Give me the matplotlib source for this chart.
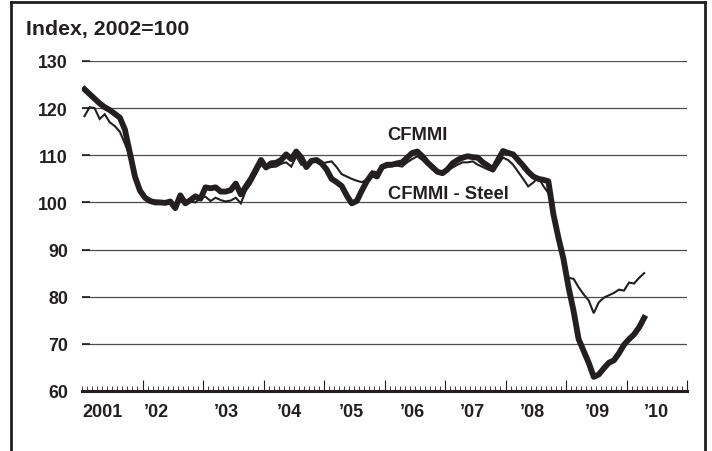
import numpy as np
import matplotlib
matplotlib.use("Agg")
import matplotlib.pyplot as plt
from matplotlib.lines import Line2D
import matplotlib.transforms as mtransforms

plt.rcParams['font.family'] = ['Liberation Sans', 'DejaVu Sans']
plt.rcParams['font.weight'] = 'bold'

# monthly index values, Jan 2001 .. Apr 2010
cfmmi = [124.0, 123.0, 122.0, 121.0, 120.2, 119.6, 118.8, 118.0, 115.5, 110.5, 105.5, 102.5,
         101.0, 100.3, 100.0, 100.0, 99.9, 100.2, 98.8, 101.5, 99.8, 100.5, 101.3, 100.8,
         103.2, 103.0, 103.2, 102.3, 102.3, 102.6, 104.0, 101.7, 103.4, 105.0, 107.0, 109.0,
         107.4, 108.3, 108.4, 109.0, 110.2, 109.2, 110.8, 109.5, 107.5, 108.8, 109.0, 108.3,
         107.0, 105.0, 104.3, 103.5, 101.5, 99.8, 100.3, 102.5, 104.5, 106.0, 105.5, 107.5,
         108.0, 108.0, 108.3, 108.5, 109.5, 110.5, 110.8, 109.8, 108.5, 107.5, 106.5, 106.2,
         107.0, 108.3, 109.0, 109.5, 109.8, 109.6, 109.5, 108.5, 107.8, 107.0, 109.0, 110.9,
         110.5, 110.2, 109.0, 107.8, 106.5, 105.5, 105.0, 104.8, 104.5, 97.5, 92.5, 88.0,
         82.0, 77.0, 71.0, 68.5, 66.0, 63.0, 63.5, 64.8, 66.0, 66.5, 68.0, 69.8,
         71.0, 72.0, 73.5, 75.5]

cfmmi_steel = [118.3, 120.2, 120.0, 117.7, 118.7, 117.0, 116.2, 115.0, 112.5, 109.8, 105.5, 102.8,
               101.2, 100.6, 100.4, 100.3, 100.2, 100.2, 99.8, 100.3, 100.0, 100.2, 100.0, 101.0,
               101.2, 100.3, 101.0, 100.5, 100.2, 100.4, 101.0, 99.8, 102.5, 104.0, 106.0, 108.0,
               107.2, 107.5, 107.6, 108.2, 108.5, 107.6, 109.8, 108.0, 108.2, 109.0, 108.8, 108.2,
               108.5, 108.7, 107.5, 106.0, 105.5, 105.0, 104.6, 104.3, 104.8, 106.6, 106.4, 107.2,
               107.5, 107.7, 107.8, 107.6, 108.5, 109.2, 109.8, 109.0, 108.0, 107.0, 106.3, 106.0,
               106.8, 107.4, 108.0, 108.5, 108.5, 108.7, 108.0, 107.5, 107.0, 106.6, 108.0, 109.5,
               109.0, 108.0, 106.5, 105.0, 103.4, 104.2, 105.3, 103.5, 102.0, 97.0, 93.0, 88.5,
               84.0, 83.8, 82.0, 80.5, 79.2, 76.5, 78.8, 79.8, 80.3, 80.8, 81.5, 81.3,
               83.0, 82.8, 84.0, 85.0]

year_labels = ['2001', "\u201902", "\u201903", "\u201904", "\u201905", "\u201906",
               "\u201907", "\u201908", "\u201909", "\u201910"]
year_label_pos = [4.0, 14.7, 28.6, 41.1, 53.4, 65.5, 77.4, 89.3, 102.2, 114.0]
yticks = [60, 70, 80, 90, 100, 110, 120, 130]

ink = '#231f20'
W, H = 712, 452
fig = plt.figure(figsize=(W / 100, H / 100), dpi=100)
ax = fig.add_axes([82 / W, 1 - 392 / H, 605 / W, 330 / H])

months = np.arange(len(cfmmi)) + 0.5
ax.plot(months, cfmmi_steel, color=ink, lw=1.5, solid_joinstyle='miter', zorder=3)
ax.plot(months, cfmmi, color=ink, lw=4.2, solid_joinstyle='round', zorder=4)

ax.set_xlim(0, 120)
ax.set_ylim(60, 130)

for v in yticks[1:]:
    ax.axhline(v, color='#4d4d4d', lw=0.9, zorder=1)

for s in ['left', 'right', 'top']:
    ax.spines[s].set_visible(False)
ax.spines['bottom'].set_linewidth(2.2)
ax.spines['bottom'].set_color(ink)

ax.set_yticks(yticks)
ax.set_yticklabels([str(v) for v in yticks], fontsize=12.8, color=ink, fontweight='bold')
ax.tick_params(axis='y', direction='in', length=6, width=1.2, color=ink, pad=10)

ax.set_xticks(np.arange(12, 121, 12))
ax.set_xticklabels([])
ax.set_xticks(np.arange(0, 120, 1), minor=True)
ax.tick_params(axis='x', which='major', direction='in', length=8, width=0.8, color=ink)
ax.tick_params(axis='x', which='minor', direction='in', length=3.3, width=0.6, color=ink)

trans = mtransforms.blended_transform_factory(ax.transData, ax.transAxes)
for lab, xp in zip(year_labels, year_label_pos):
    ax.text(xp, -25 / 330, lab, transform=trans, ha='center', va='baseline',
            fontsize=13, color=ink, fontweight='bold')

ax.text(60.6, 114.5, 'CFMMI', ha='left', va='center', fontsize=13.2, color=ink, fontweight='bold')
ax.text(60.6, 101.9, 'CFMMI - Steel', ha='left', va='center', fontsize=13.2, color=ink,
        fontweight='bold')

fig.text(26 / W, 1 - 35 / H, 'Index, 2002=100', ha='left', va='baseline', fontsize=15.3,
         color=ink, fontweight='bold')

# outer frame (bottom edge runs off the image)
fig.add_artist(Line2D([11 / W, 11 / W], [0, 1 - 3 / H], transform=fig.transFigure, color=ink, lw=2))
fig.add_artist(Line2D([11 / W, 705 / W], [1 - 3 / H, 1 - 3 / H], transform=fig.transFigure, color=ink, lw=2))
fig.add_artist(Line2D([705 / W, 705 / W], [0, 1 - 3 / H], transform=fig.transFigure, color=ink, lw=2))

fig.savefig('out.png', dpi=100)
